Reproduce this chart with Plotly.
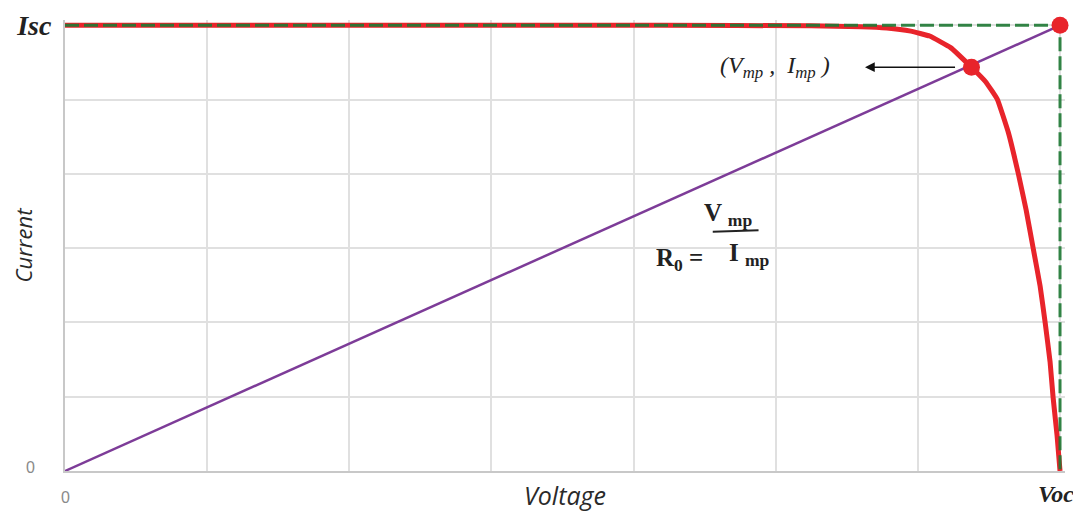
import plotly.graph_objects as go

# normalised I-V curve (V / Voc, I / Isc)
volts = [0.0, 0.30, 0.60, 0.75, 0.80, 0.826, 0.85, 0.869, 0.89, 0.911, 0.925, 0.937, 0.948, 0.958, 0.966, 0.973, 0.980, 0.985, 0.990, 0.993, 0.997, 1.0]
amps = [1.0, 1.0, 1.0, 0.999, 0.997, 0.994, 0.987, 0.976, 0.950, 0.906, 0.874, 0.834, 0.760, 0.668, 0.585, 0.50, 0.415, 0.334, 0.245, 0.166, 0.08, 0.0]

voc = 1.0
isc = 1.0
v_mp = 0.911
i_mp = 0.906

x_ticks = [0, voc]
x_labels = ["", "<b><i>Voc</i></b>"]
y_ticks = [0, isc]
y_labels = ["", "<b><i>Isc</i></b>"]

red = "#e8242b"
purple = "#7d3c98"
green = "#1f7a35"

fig = go.Figure()

# load line R0 through the origin
fig.add_trace(go.Scatter(x=[0, voc], y=[0, isc], mode="lines",
                         line=dict(color=purple, width=2.5), cliponaxis=False))

# I-V curve
fig.add_trace(go.Scatter(x=volts, y=amps, mode="lines",
                         line=dict(color=red, width=5, shape="spline", smoothing=0.3),
                         cliponaxis=False))

# ideal rectangle (dashed)
fig.add_trace(go.Scatter(x=[0, voc, voc], y=[isc, isc, 0], mode="lines",
                         line=dict(color=green, width=3, dash="14px,5px"), opacity=0.9,
                         cliponaxis=False))

# markers
fig.add_trace(go.Scatter(x=[v_mp, voc], y=[i_mp, isc], mode="markers",
                         marker=dict(color=red, size=17), cliponaxis=False))

# page has an 8px body margin, so the figure is a bit smaller than the window
fig.update_layout(
    width=1073, height=504,
    margin=dict(l=57, r=16, t=12, b=41),
    plot_bgcolor="white", paper_bgcolor="white",
    showlegend=False,
    font=dict(family="Liberation Sans", color="#333"),
)

fig.update_xaxes(range=[0, 1.005], tickmode="array", tickvals=x_ticks, ticktext=x_labels,
                 tickfont=dict(size=24, color="#222", family="Liberation Serif"),
                 showgrid=False, zeroline=False,
                 showline=True, linecolor="#c8c8c8", linewidth=2, ticks="",
                 ticklabelstandoff=0, ticklabelshift=-4, automargin=False,
                 minor=dict(tick0=0, dtick=voc / 7, showgrid=True, gridcolor="#e0e0e0", gridwidth=2),
                 title=dict(text="<i>Voltage</i>", font=dict(size=25, color="#2a2a2a", family="Open Sans"),
                            standoff=0))
fig.update_yaxes(range=[0, 1.012], tickmode="array", tickvals=y_ticks, ticktext=y_labels,
                 tickfont=dict(size=28, color="#222", family="Liberation Serif"),
                 showgrid=False, zeroline=False,
                 showline=True, linecolor="#c8c8c8", linewidth=2, ticks="",
                 ticklabelstandoff=6, automargin=False,
                 minor=dict(tick0=0, dtick=isc / 6, showgrid=True, gridcolor="#e0e0e0", gridwidth=2),
                 title=dict(text="<i>Current</i>", font=dict(size=22, color="#2a2a2a", family="Open Sans"),
                            standoff=0))

# zero labels
fig.add_annotation(x=0, y=0, xref="x", yref="y", text="0", showarrow=False,
                   xshift=-35, yshift=4, font=dict(size=16, color="#8a8a8a"))
fig.add_annotation(x=0, y=0, xref="x", yref="y", text="0", showarrow=False,
                   yshift=-26, font=dict(size=16, color="#8a8a8a"))

# arrow pointing to the (Vmp, Imp) label
fig.add_annotation(x=0.804, y=i_mp, ax=0.896, ay=i_mp, xref="x", yref="y", axref="x", ayref="y",
                   text="", showarrow=True, arrowhead=2, arrowsize=1.3, arrowwidth=1.5,
                   arrowcolor="#111")
fig.add_annotation(x=0.714, y=i_mp, xref="x", yref="y",
                   text="<i>(V<sub>mp</sub> ,  I<sub>mp</sub> )</i>", showarrow=False,
                   font=dict(family="Liberation Serif", size=24, color="#222"))

# R0 = Vmp / Imp
fig.add_annotation(x=0.618, y=0.475, xref="x", yref="y",
                   text="<b>R<sub>0</sub> =</b>", showarrow=False,
                   font=dict(family="Liberation Serif", size=25, color="#222"))
fig.add_annotation(x=0.666, y=0.575, xref="x", yref="y",
                   text="<b>V <sub>mp</sub></b>", showarrow=False,
                   font=dict(family="Liberation Serif", size=25, color="#222"))
fig.add_annotation(x=0.688, y=0.485, xref="x", yref="y",
                   text="<b>I <sub>mp</sub></b>", showarrow=False,
                   font=dict(family="Liberation Serif", size=25, color="#222"))
fig.add_shape(type="line", xref="x", yref="y", x0=0.651, x1=0.697, y0=0.537, y1=0.540,
              line=dict(color="#222", width=2))

fig.write_html("out.html")
